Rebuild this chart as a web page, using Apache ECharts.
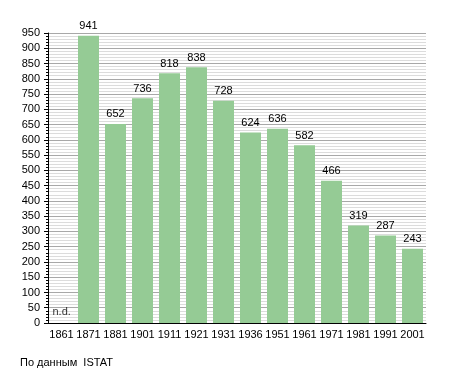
<!DOCTYPE html>
<html><head><meta charset="utf-8">
<script src="https://cdn.jsdelivr.net/npm/echarts@6/dist/echarts.min.js"></script>
<style>html,body{margin:0;padding:0;background:#fff}#c{width:455px;height:373px}</style>
</head><body><div id="c"></div>
<script>
const years = ['1861','1871','1881','1901','1911','1921','1931','1936','1951','1961','1971','1981','1991','2001'];
const population = [null,941,652,736,818,838,728,624,636,582,466,319,287,243];
const missingLabel = 'n.d.';
const sourceText = 'По данным  ISTAT';

const chart = echarts.init(document.getElementById('c'));
const font = 'Liberation Sans, Arial, sans-serif';
chart.setOption({
  animation: false,
  textStyle: {fontFamily: font},
  grid: {left: 48, right: 29, top: 33, bottom: 50, containLabel: false},
  xAxis: {
    type: 'category', data: years,
    axisLine: {lineStyle: {color: '#000', width: 1}},
    axisTick: {show: false},
    axisLabel: {color: '#000', fontSize: 11, fontFamily: font, margin: 6, interval: 0}
  },
  yAxis: {
    type: 'value', min: 0, max: 950, interval: 50,
    axisLine: {show: true, lineStyle: {color: '#000', width: 1}},
    axisTick: {show: true, length: 4, lineStyle: {color: '#000'}},
    minorTick: {show: true, splitNumber: 5, length: 2, lineStyle: {color: '#000'}},
    splitLine: {show: true, lineStyle: {color: '#a8a8a8', width: 1}},
    minorSplitLine: {show: true, lineStyle: {color: '#dcdcdc', width: 1}},
    axisLabel: {color: '#000', fontSize: 11, fontFamily: font, margin: 8}
  },
  series: [{
    type: 'bar', data: population, barWidth: 21,
    itemStyle: {color: '#95cb95'},
    label: {show: true, position: 'top', color: '#000', fontSize: 11, fontFamily: font, distance: 4}
  }, {
    type: 'scatter', data: [[0, 0]], symbolSize: 0,
    label: {show: true, formatter: missingLabel, position: 'insideBottomLeft', color: '#000', fontSize: 11, fontFamily: font, offset: [-14, -1], align: 'left', verticalAlign: 'bottom'}
  }],
  graphic: [{type: 'text', left: 20, top: 357, style: {text: sourceText, fill: '#000', font: '11px ' + font}}]
});
</script></body></html>
